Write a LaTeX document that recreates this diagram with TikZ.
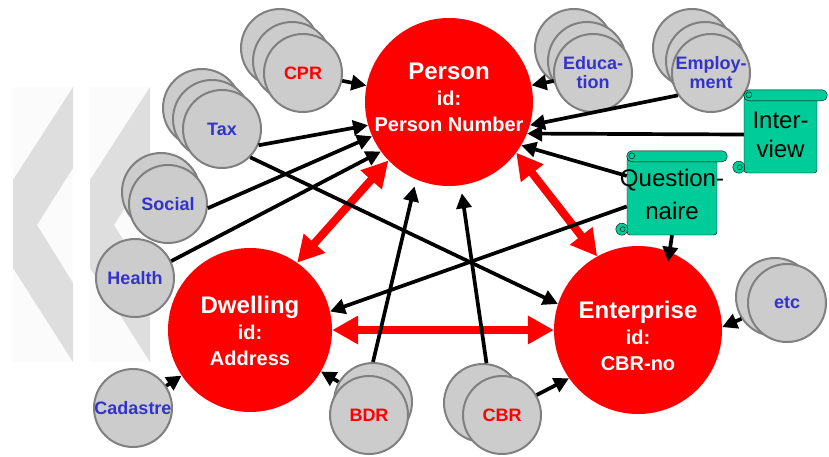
\documentclass[tikz,border=0pt]{standalone}
\usepackage{fontspec}
\setmainfont{Liberation Sans}
\usetikzlibrary{arrows.meta}

\definecolor{regfill}{RGB}{204,204,204}
\definecolor{regblue}{RGB}{51,51,204}
\definecolor{scrollgreen}{RGB}{0,204,153}
\definecolor{chevgray}{RGB}{222,222,222}
\definecolor{chevlight}{RGB}{251,251,251}

\begin{document}
\begin{tikzpicture}[x=1pt, y=-1pt,
    rec/.style={circle, fill=red, minimum size=168pt, inner sep=0pt},
    rectext/.style={align=center, inner sep=0pt, text=white, font=\bfseries\fontsize{20}{26}\selectfont},
    reg/.style={circle, draw=gray, line width=2pt, fill=regfill, minimum size=78pt, inner sep=-6pt, align=center, text=regblue, font=\bfseries\fontsize{18}{19}\selectfont},
    scroll/.style={draw, fill=scrollgreen, rounded corners=3pt, inner sep=0pt},
    scrolltext/.style={align=center, inner sep=0pt, font=\fontsize{24}{29}\selectfont},
    link/.style={-{Triangle[length=15pt,width=15pt]}, line width=3.7pt},
    tie/.style={{Triangle[length=26pt,width=27pt]}-{Triangle[length=26pt,width=27pt]}, red, line width=8pt}]

  \useasboundingbox (0,0) rectangle (829,456);

  % background chevrons
  \foreach \s in {0,77}{
    \fill[chevlight] (13+\s,87) rectangle (73+\s,362);
    \fill[chevgray] (73+\s,87) -- (13+\s,180) -- (13+\s,268) -- (73+\s,362)
      -- (73+\s,283) -- (37+\s,225) -- (73+\s,168) -- cycle;
  }

  % entities
  \node[rec, label={[rectext, yshift=5pt]center:{{\fontsize{24}{26}\selectfont Person}\\id:\\Person Number}}]
    (person) at (449,102) {};
  \node[rec, minimum size=164pt, label={[rectext, yshift=-1pt]center:{{\fontsize{24}{26}\selectfont Dwelling}\\id:\\Address}}]
    (dwelling) at (250,330) {};
  \node[rec, label={[rectext, yshift=-6pt]center:{{\fontsize{24}{26}\selectfont Enterprise}\\id:\\CBR-no}}]
    (enterprise) at (638,330) {};

  % registers, back copies first
  \foreach \nm/\x/\y in {cpr3/280/48, cpr2/292/61, tax3/202/108, tax2/212/119,
      social2/161/192, edu3/574/48, edu2/587/61, emp3/692/48, emp2/705/61,
      bdr2/373/402, cbr2/483/403, etc2/775/297}
    \node[reg] (\nm) at (\x,\y) {};

  \node[reg, text=red] (cpr) at (303,73) {CPR};
  \node[reg] (tax) at (222,129) {Tax};
  \node[reg] (social) at (168,204) {Social};
  \node[reg] (health) at (135,278) {Health};
  \node[reg] (cadastre) at (133,408) {Cadastre};
  \node[reg] (edu) at (593,73) {Educa-\\tion};
  \node[reg] (emp) at (711,73) {Employ-\\ment};
  \node[reg, text=red] (bdr) at (369,415) {BDR};
  \node[reg, text=red] (cbr) at (502,415) {CBR};
  \node[reg] (etc) at (787,303) {etc};

  % scrolls
  \node[scroll, minimum width=73pt, minimum height=77pt] (interview) at (780.5,134.5) {};
  \node[scroll, minimum width=90pt, minimum height=78pt] (quest) at (672,196) {};
  \foreach \nm in {interview,quest}{
    \draw[fill=scrollgreen] ([xshift=-5pt,yshift=6pt]\nm.south west) circle [radius=6pt];
    \draw ([xshift=-4pt,yshift=6pt]\nm.south west) circle [radius=2.5pt];
    \draw[fill=scrollgreen, rounded corners=5pt] ([yshift=6pt]\nm.north west)
      rectangle ([xshift=10pt,yshift=-5pt]\nm.north east);
    \draw ([xshift=5pt,yshift=1pt]\nm.north west) circle [radius=3pt];
  }

  % links between entities
  \draw[tie] (person.224) -- (dwelling.55);
  \draw[tie] (person.-37) -- (enterprise.119);
  \draw[tie] (dwelling) -- (enterprise);

  % feeds
  \draw[link] (cpr) -- (person);
  \draw[link] (edu) -- (person);
  \draw[link] (emp.214) -- (person.-16);
  \draw[link] (interview.west) -- (person.-22);
  \draw[link] (quest.156) -- (person.-31);
  \draw[link] (quest.193) -- (dwelling.13);
  \draw[link, shorten >=-10pt] (quest.south) -- (enterprise.68);
  \draw[link] (tax.-24) -- (person.196);
  \draw[link] (tax.-45) -- (enterprise.162);
  \draw[link] (social.-6) -- (person.204);
  \draw[link] (health.25) -- (person.216);
  \draw[link, shorten >=7pt] (bdr2.north) -- (person.247);
  \draw[link, shorten >=8pt] (cbr2.85) -- (person.-82);
  \draw[link] (cadastre) -- (dwelling);
  \draw[link] (bdr2) -- (dwelling);
  \draw[link] (cbr.30) -- (enterprise.215);
  \draw[link] (etc2.213) -- (enterprise.2);

  \node[scrolltext] (interviewtext) at (interview) {Inter-\\view};
  \node[scrolltext, font=\fontsize{24}{33}\selectfont] (questtext) at ([yshift=2pt]quest) {Question-\\naire};

\end{tikzpicture}
\end{document}
